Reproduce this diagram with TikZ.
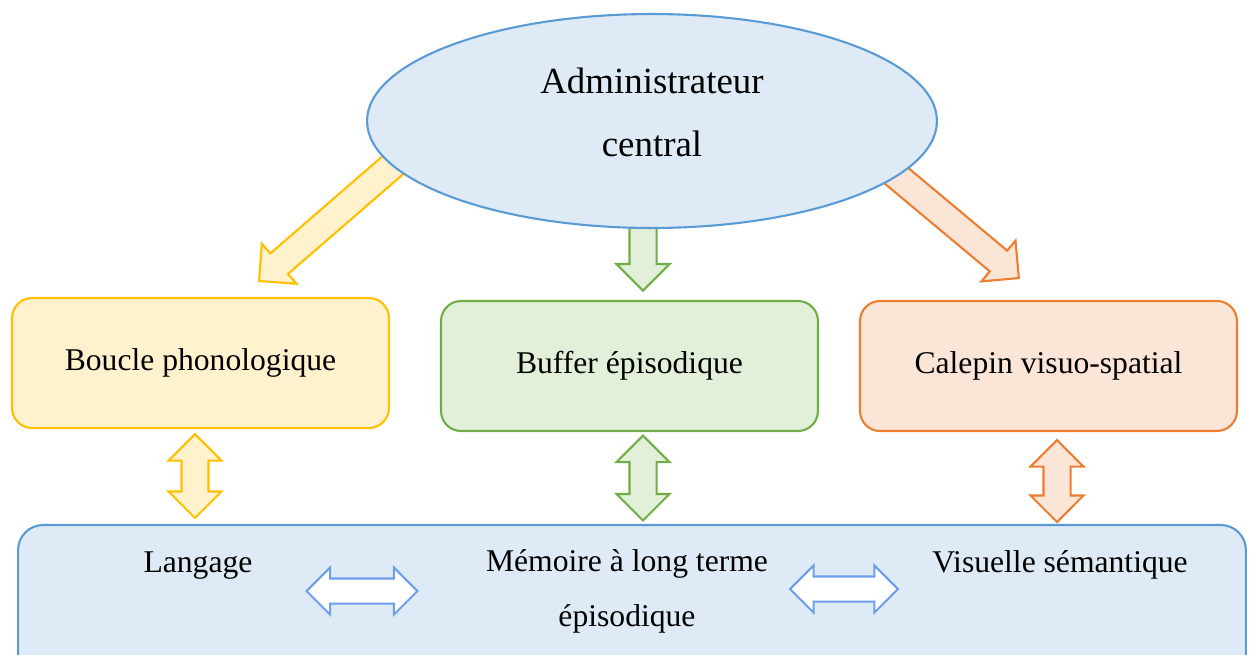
\documentclass[tikz,border=0pt]{standalone}
\usepackage{fontspec}
\setmainfont{Liberation Serif}
\usetikzlibrary{shapes, arrows, shapes.arrows, positioning}
\definecolor{bluefill}{HTML}{DEEBF7}
\definecolor{blueline}{HTML}{5B9BD5}
\definecolor{yelfill}{HTML}{FFF2CC}
\definecolor{yelline}{HTML}{FFC000}
\definecolor{grnfill}{HTML}{E2F0D9}
\definecolor{grnline}{HTML}{70AD47}
\definecolor{orgfill}{HTML}{FBE5D6}
\definecolor{orgline}{HTML}{ED7D31}
\definecolor{arrline}{HTML}{6D9EEB}
\tikzstyle{admin} = [ellipse, draw=blueline, fill=bluefill, line width=1.2pt, minimum width=11.4cm, minimum height=4.28cm, align=center, text depth=0.36cm, font=\fontsize{21}{36}\selectfont]
\tikzstyle{wbox} = [rectangle, rounded corners=0.4cm, line width=1.2pt, minimum width=7.54cm, minimum height=2.6cm, font=\fontsize{18}{22}\selectfont]
\tikzstyle{sarrow} = [single arrow, line width=1.2pt, inner xsep=0pt, inner ysep=0.25cm, single arrow head extend=0.26cm, single arrow head indent=0pt]
\tikzstyle{darrow} = [double arrow, line width=1.2pt, inner xsep=0pt, inner ysep=0.25cm, double arrow head extend=0.26cm, double arrow head indent=0pt]
\tikzstyle{wtext} = [anchor=base, font=\fontsize{18}{22}\selectfont]

\begin{document}
\begin{tikzpicture}[x=0.02cm, y=-0.02cm]
			\useasboundingbox (0,0) rectangle (1249,654);
			\clip (0,0) rectangle (1249,654);

			% arrows leaving the administrator
			\node [sarrow, draw=yelline, fill=yelfill, minimum height=4cm, rotate=220.9, anchor=tip] (ay) at (258,282) {};
			\node [sarrow, draw=grnline, fill=grnfill, minimum height=1.84cm, rotate=-90, anchor=tip] (ag) at (643,292) {};
			\node [sarrow, draw=orgline, fill=orgfill, minimum height=4cm, rotate=-39.9, anchor=tip] (ao) at (1020,279) {};

			\node [admin] (admin) at (652,121) {Administrateur\\central};

			\node [wbox, draw=yelline, fill=yelfill] (boucle) at (200.5,363) {Boucle phonologique};
			\node [wbox, draw=grnline, fill=grnfill] (buffer) at (629.5,366) {Buffer épisodique};
			\node [wbox, draw=orgline, fill=orgfill] (calepin) at (1048.5,366) {Calepin visuo-spatial};

			\node [rectangle, rounded corners=0.5cm, line width=1.2pt, draw=blueline, fill=bluefill, minimum width=24.56cm, minimum height=3.6cm] (mlt) at (632,615) {};

			\node [wtext] (langage) at (198,572) {Langage};
			\node [wtext, align=center, font=\fontsize{18}{31}\selectfont] (memoire) at (627,626) {Mémoire à long terme\\épisodique};
			\node [wtext] (visuelle) at (1060,572) {Visuelle sémantique};

			% links with long term memory
			\node [darrow, draw=yelline, fill=yelfill, minimum height=1.68cm, rotate=90] (dy) at (195,476) {};
			\node [darrow, draw=grnline, fill=grnfill, minimum height=1.7cm, rotate=90] (dg) at (643,478) {};
			\node [darrow, draw=orgline, fill=orgfill, minimum height=1.64cm, rotate=90] (do) at (1057,481) {};

			\node [darrow, draw=arrline, fill=white, minimum height=2.22cm, inner ysep=0.23cm, double arrow head extend=0.22cm] (dl) at (362,591) {};
			\node [darrow, draw=arrline, fill=white, minimum height=2.16cm, inner ysep=0.23cm, double arrow head extend=0.22cm] (dr) at (844,589) {};
		\end{tikzpicture}
\end{document}
